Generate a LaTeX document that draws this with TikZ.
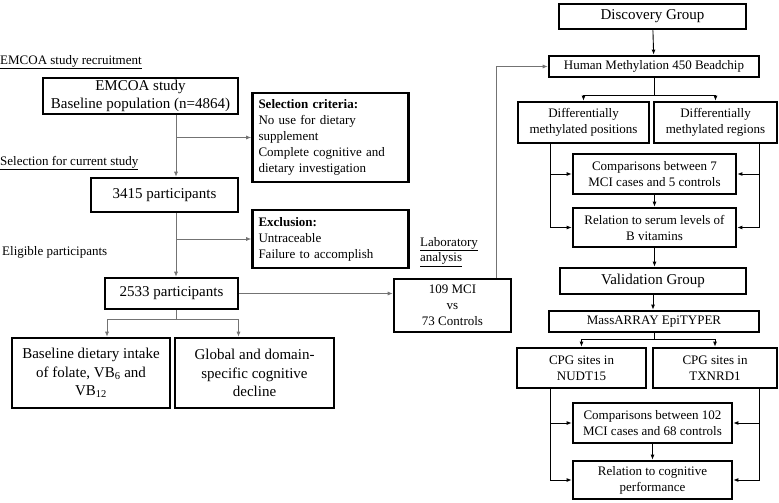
\documentclass[tikz,border=0pt]{standalone}
\usepackage{fontspec}
\setmainfont{Liberation Serif}
\usetikzlibrary{arrows.meta}

\tikzset{
  box/.style={draw, line width=2.7pt, align=center, inner sep=1pt, font=\fontsize{13}{16}\selectfont},
  bigbox/.style={box, font=\fontsize{15}{18.5}\selectfont},
  listbox/.style={box, align=left, text width=144pt, inner xsep=6pt},
  lbl/.style={anchor=west, inner sep=0pt, align=left, font=\fontsize{13}{15.5}\selectfont},
  gline/.style={draw=black!55, line width=0.7pt},
  bline/.style={draw=black, line width=0.9pt},
}

\begin{document}
\begin{tikzpicture}[x=1pt, y=-1pt, >={Latex[length=5pt,width=4pt]}]
  \useasboundingbox (0,0) rectangle (779,503);

  % left part: cohort
  \node[lbl] (recruit) at (0,62) {\underline{EMCOA study recruitment}};
  \node[lbl] (selfor) at (0,163) {\underline{Selection for current study}};
  \node[lbl] (eligible) at (2,252) {Eligible participants};

  \node[bigbox, minimum width=195pt, minimum height=36pt] (emcoa) at (140.5,96)
    {EMCOA study\\Baseline population (n=4864)};
  \node[listbox, minimum height=89pt] (selcrit) at (330.5,137.5)
    {\textbf{Selection criteria:}\\No use for dietary\\supplement\\Complete cognitive and\\dietary investigation};
  \node[bigbox, minimum width=147pt, minimum height=34pt] (n3415) at (164.5,195) {3415 participants};
  \node[listbox, minimum height=58pt] (excl) at (330.5,239)
    {\textbf{Exclusion:}\\Untraceable\\Failure to accomplish};
  \node[bigbox, minimum width=133pt, minimum height=31pt] (n2533) at (171.5,293.5) {2533 participants};
  \node[bigbox, minimum width=158pt, minimum height=70pt] (intake) at (91,373)
    {Baseline dietary intake\\of folate, VB\textsubscript{6} and\\VB\textsubscript{12}};
  \node[bigbox, minimum width=159pt, minimum height=70pt] (decline) at (254.5,373)
    {Global and domain-\\specific cognitive\\decline};

  \node[lbl] (lab) at (420,252) {\underline{Laboratory}\\\underline{analysis}};
  \node[box, minimum width=117pt, minimum height=53pt] (mci) at (452.5,305.5)
    {109 MCI\\vs\\73 Controls};

  % right part: methylation
  \node[bigbox, minimum width=187pt, minimum height=25pt] (discovery) at (652.5,16.5) {Discovery Group};
  \node[box, minimum width=210pt, minimum height=21pt] (hm450) at (654,66.5) {Human Methylation 450 Beadchip};
  \node[box, minimum width=131pt, minimum height=41pt] (dmp) at (583.5,122.5)
    {Differentially\\methylated positions};
  \node[box, minimum width=123pt, minimum height=41pt] (dmr) at (715.5,122.5)
    {Differentially\\methylated regions};
  \node[box, minimum width=163pt, minimum height=40pt] (comp7) at (654.5,174)
    {Comparisons between 7\\MCI cases and 5 controls};
  \node[box, minimum width=163pt, minimum height=39pt] (serum) at (654.5,227.5)
    {Relation to serum levels of\\B vitamins};
  \node[bigbox, minimum width=186pt, minimum height=26pt] (validation) at (653,281) {Validation Group};
  \node[box, minimum width=210pt, minimum height=21pt] (mass) at (654,321.5) {MassARRAY EpiTYPER};
  \node[box, minimum width=129pt, minimum height=40pt] (nudt) at (581.5,368)
    {CPG sites in\\NUDT15};
  \node[box, minimum width=124pt, minimum height=40pt] (txnrd) at (715,368)
    {CPG sites in\\TXNRD1};
  \node[box, minimum width=159pt, minimum height=40pt] (comp102) at (652.5,423)
    {Comparisons between 102\\MCI cases and 68 controls};
  \node[box, minimum width=159pt, minimum height=38pt] (cogn) at (652.5,480)
    {Relation to cognitive\\performance};

  \coordinate (trunk) at (176,0);

  % grey connectors
  \draw[gline, ->] (emcoa.south -| trunk) -- (n3415.north -| trunk);
  \draw[gline, ->] (selcrit.west -| trunk) -- (selcrit.west);
  \draw[gline, ->] (n3415.south -| trunk) -- (n2533.north -| trunk);
  \draw[gline, ->] (excl.west -| trunk) -- (excl.west);
  \draw[gline, ->] (n2533.east) -- (n2533.east -| mci.west);
  \draw[gline] (n2533.south -| trunk) -- ++(0,9) coordinate (split1);
  \draw[gline, ->] (split1) -| ([xshift=16pt]intake.north);
  \draw[gline, ->] (split1) -| ([xshift=-16pt]decline.north);
  \draw[gline, ->] ([xshift=43.5pt]mci.north) |- (hm450.west);

  % black connectors
  \draw[bline, ->] (discovery) -- (hm450);
  \draw[bline] (hm450.south) -- ++(0,17) coordinate (split2);
  \draw[bline, ->] (split2) -| (dmp.north);
  \draw[bline, ->] (split2) -| (dmr.north);
  \draw[bline, ->] ([xshift=-33.5pt]dmp.south) |- (comp7.west);
  \draw[bline, ->] ([xshift=-33.5pt]dmp.south) |- (serum.west);
  \draw[bline, ->] ([xshift=43.5pt]dmr.south) |- (comp7.east);
  \draw[bline, ->] ([xshift=43.5pt]dmr.south) |- (serum.east);
  \draw[bline, ->] (comp7) -- (serum);
  \draw[bline, ->] (serum.south) -- (serum.south |- validation.north);
  \draw[bline, ->] (validation) -- (validation |- mass.north);
  \draw[bline] (mass.south) -- ++(0,6) coordinate (split3);
  \draw[bline, ->] (split3) -| (nudt.north);
  \draw[bline, ->] (split3) -| (txnrd.north);
  \draw[bline, ->] ([xshift=-31.5pt]nudt.south) |- (comp102.west);
  \draw[bline, ->] ([xshift=-31.5pt]nudt.south) |- (cogn.west);
  \draw[bline, ->] ([xshift=44pt]txnrd.south) |- (comp102.east);
  \draw[bline, ->] ([xshift=44pt]txnrd.south) |- (cogn.east);
  \draw[bline, ->] (comp102) -- (cogn);
\end{tikzpicture}
\end{document}
